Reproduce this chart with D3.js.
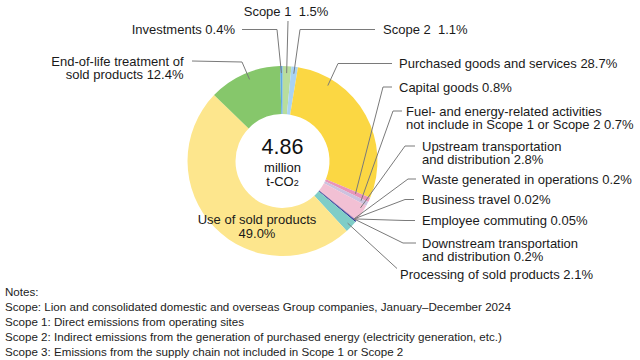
<!DOCTYPE html>
<html>
<head>
<meta charset="utf-8">
<script src="https://cdn.jsdelivr.net/npm/d3@7"></script>
<style>
  html, body { margin: 0; padding: 0; background: #fff; }
  svg { display: block; font-family: "Liberation Sans", Arial, Helvetica, sans-serif; }
  text { white-space: pre; }
</style>
</head>
<body>
<svg id="chart" width="640" height="360"></svg>
<script>
// ---- data ----
const categories = [
  "Scope 1", "Scope 2", "Purchased goods and services", "Capital goods",
  "Fuel- and energy-related activities not include in Scope 1 or Scope 2",
  "Upstream transportation and distribution", "Waste generated in operations",
  "Business travel", "Employee commuting", "Downstream transportation and distribution",
  "Processing of sold products", "Use of sold products",
  "End-of-life treatment of sold products", "Investments"
];
const values = [1.5, 1.1, 28.7, 0.8, 0.7, 2.8, 0.2, 0.02, 0.05, 0.2, 2.1, 49.0, 12.4, 0.4];
const labelLines = [
  ["Scope 1 "], ["Scope 2 "], ["Purchased goods and services"], ["Capital goods"],
  ["Fuel- and energy-related activities", "not include in Scope 1 or Scope 2"],
  ["Upstream transportation", "and distribution"], ["Waste generated in operations"],
  ["Business travel"], ["Employee commuting"], ["Downstream transportation", "and distribution"],
  ["Processing of sold products"], ["Use of sold products", ""],
  ["End-of-life treatment of", "sold products"], ["Investments"]
];
const totalValue = "4.86";
const totalUnit = ["million", "t-CO", "2"];
const notes = [
  "Notes:",
  "Scope: Lion and consolidated domestic and overseas Group companies, January\u2013December 2024",
  "Scope 1: Direct emissions from operating sites",
  "Scope 2: Indirect emissions from the generation of purchased energy (electricity generation, etc.)",
  "Scope 3: Emissions from the supply chain not included in Scope 1 or Scope 2"
];
const colors = [
  "#b8dd9d", "#a9d3f3", "#fbd743", "#e994b8", "#cdc2df", "#f2c0d4", "#e4a9c6",
  "#1d2088", "#1d2088", "#2b3592", "#7fcdc7", "#fde68d", "#86c76b", "#5ea9e6"
];

// ---- layout (positions only) ----
const cx = 282.5, cy = 161, R = 95, R0 = 47;
const layout = [
  {x: 286, y: 11, a: "middle", r: 88, pts: [[288, 21]]},
  {x: 383, y: 29.5, a: "start", r: 88, pts: [[300, 29.5], [375, 29.5]]},
  {x: 399, y: 63.5, a: "start", r: 88, ang: 31, pts: [[338, 63.5], [392, 63.5]]},
  {x: 399, y: 87, a: "start", r: 80, pts: [[383, 87], [392, 87]]},
  {x: 406, y: 111, a: "start", r: 88, pts: [[393, 111], [402, 111]]},
  {x: 422, y: 146, a: "start", r: 91, ang: 121, pts: [[405, 146], [415, 146]]},
  {x: 422, y: 179, a: "start", r: 92, ang: 129, pts: [[408, 179], [416, 179]]},
  {x: 422, y: 199.5, a: "start", r: 92, ang: 129, pts: [[405, 199.5], [414, 199.5]]},
  {x: 422, y: 220.5, a: "start", r: 92, ang: 129, pts: [[405, 220.5], [415, 220.5]]},
  {x: 422, y: 243, a: "start", r: 92, ang: 129, pts: [[403, 243], [416, 243]]},
  {x: 400, y: 274, a: "start", r: 90, pts: [[397, 268.5]]},
  {x: 257, y: 219.5, a: "middle", r: null, pts: []},
  {x: 183.5, y: 61, a: "end", r: 88, ang: 338, pts: [[242, 62], [192, 61]]},
  {x: 235, y: 29.5, a: "end", r: 88, pts: [[277, 29.5], [242, 29.5]]}
];

const fmt = v => v < 0.1 ? v.toFixed(2) : v.toFixed(1);

const svg = d3.select("#chart");
const g = svg.append("g").attr("transform", `translate(${cx},${cy})`);

const pie = d3.pie().sort(null).value(d => d.value);
const arcs = pie(categories.map((c, i) => ({name: c, value: values[i], i})));
const arc = d3.arc().innerRadius(R0).outerRadius(R);

g.selectAll("path.slice").data(arcs).join("path")
  .attr("class", "slice")
  .attr("d", arc)
  .attr("fill", d => colors[d.data.i]);

// leaders
const line = d3.line();
arcs.forEach(d => {
  const L = layout[d.data.i];
  if (L.r == null) return;
  const angDeg = L.ang != null ? L.ang : (d.startAngle + d.endAngle) / 2 * 180 / Math.PI;
  const a = angDeg * Math.PI / 180;
  const p0 = [cx + L.r * Math.sin(a), cy - L.r * Math.cos(a)];
  svg.append("path")
    .attr("d", line([p0, ...L.pts]))
    .attr("fill", "none").attr("stroke", "#7a7a7a").attr("stroke-width", 1);
});

// labels
const lh = 13.5;
arcs.forEach(d => {
  const i = d.data.i, L = layout[i];
  const lines = labelLines[i].slice();
  const last = lines.length - 1;
  lines[last] = (lines[last] ? lines[last] + " " : "") + fmt(values[i]) + "%";
  const t = svg.append("text")
    .attr("x", L.x).attr("y", L.y + 4.6)
    .attr("text-anchor", L.a)
    .attr("font-size", 13).attr("fill", "#1a1a1a");
  lines.forEach((s, k) => {
    t.append("tspan").attr("x", L.x).attr("y", L.y + 4.6 + k * lh).text(s);
  });
});

// centre text
g.append("text").attr("x", 0).attr("y", -7).attr("text-anchor", "middle")
  .attr("font-size", 21.5).attr("fill", "#111").text(totalValue);
g.append("text").attr("x", 0).attr("y", 11).attr("text-anchor", "middle")
  .attr("font-size", 13).attr("fill", "#111").text(totalUnit[0]);
const u = g.append("text").attr("x", 0).attr("y", 25).attr("text-anchor", "middle")
  .attr("font-size", 13).attr("fill", "#111");
u.append("tspan").text(totalUnit[1]);
u.append("tspan").attr("font-size", 9).text(totalUnit[2]);

// notes
const ng = svg.append("g");
notes.forEach((s, k) => {
  ng.append("text").attr("x", 5).attr("y", 296 + k * 15)
    .attr("font-size", 11.6).attr("fill", "#222").text(s);
});
</script>
</body>
</html>
